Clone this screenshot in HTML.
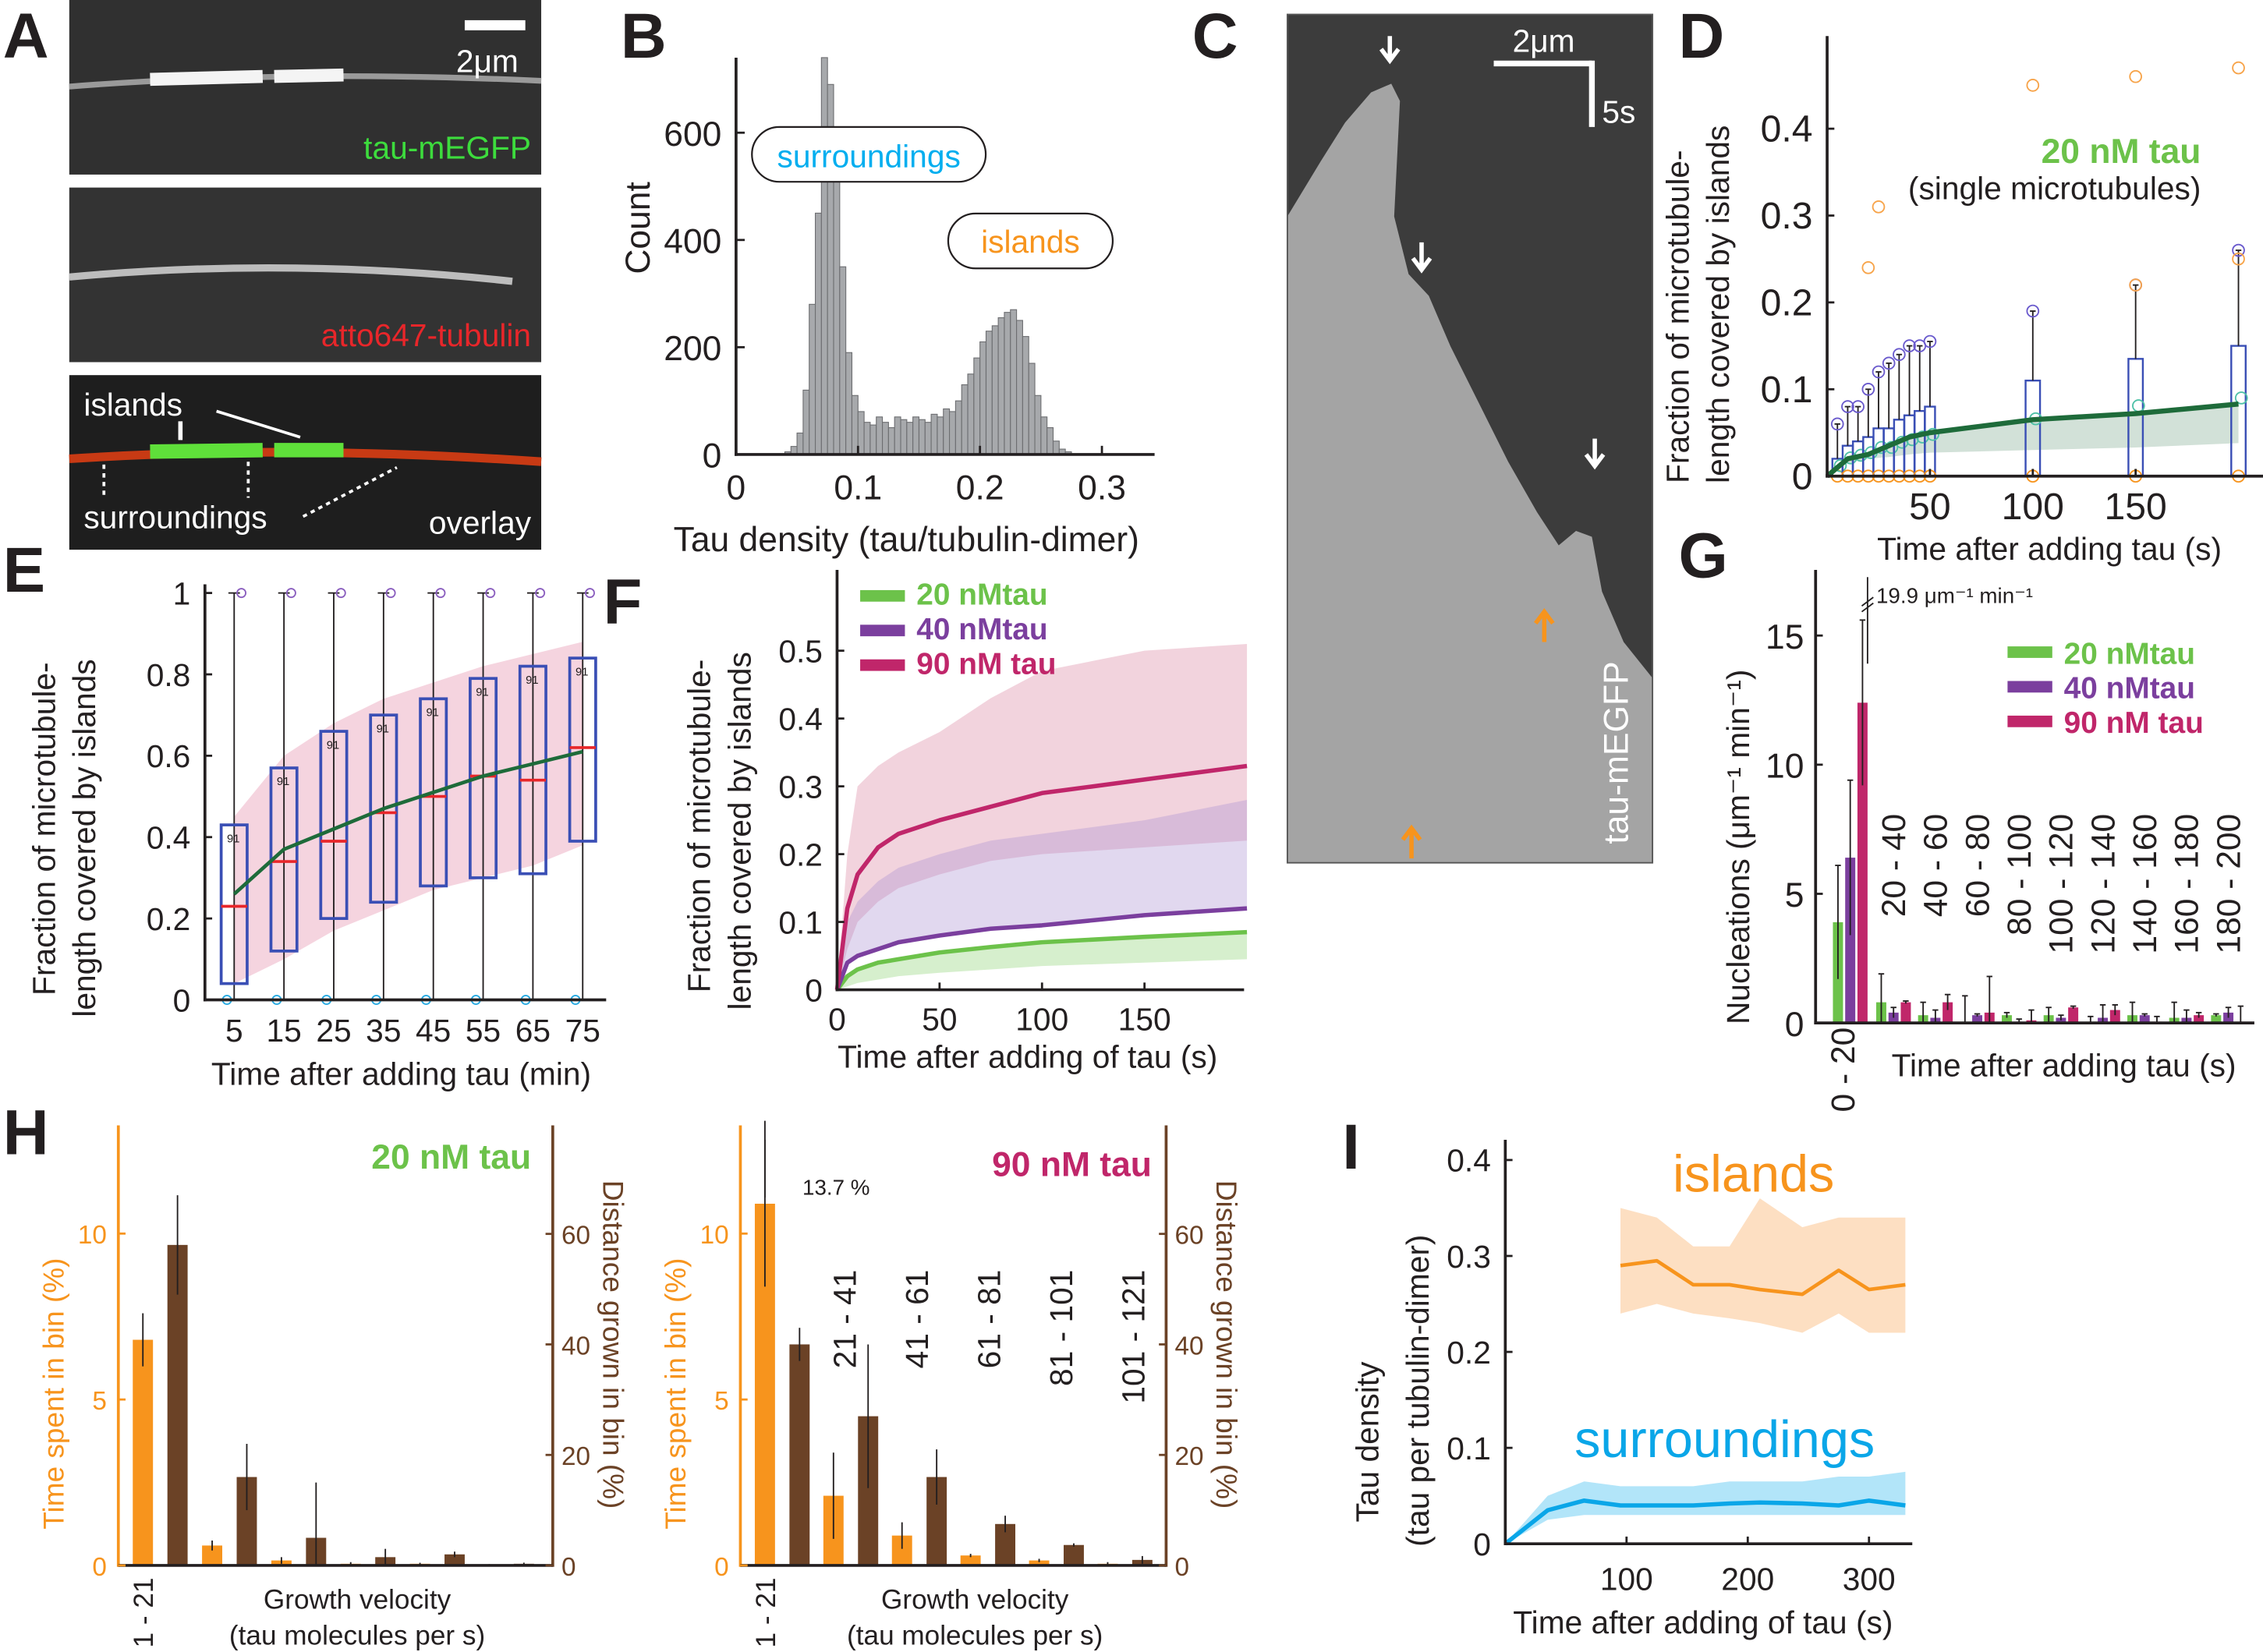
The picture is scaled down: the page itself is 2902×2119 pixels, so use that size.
<!DOCTYPE html>
<html><head><meta charset="utf-8">
<style>
html,body{margin:0;padding:0;background:#fff;}
svg{display:block;font-family:"Liberation Sans",Arial,sans-serif;}
</style></head>
<body>
<svg id="fig" xmlns="http://www.w3.org/2000/svg" width="2902" height="2119" viewBox="0 0 1568 1145" preserveAspectRatio="none">
<rect x="0" y="0" width="1568" height="1145" fill="#fff"/>
<!-- Panel A images -->
<g>
<rect x="48" y="0" width="327" height="121" fill="#303030"/>
<path d="M48 60 Q200 48 375 56" stroke="#9a9a9a" stroke-width="4" fill="none"/>
<line x1="104" y1="55" x2="182" y2="53" stroke="#f4f4f4" stroke-width="9"/>
<line x1="190" y1="53" x2="238" y2="52" stroke="#f4f4f4" stroke-width="9"/>
<rect x="322" y="14" width="42" height="7" fill="#fff"/>
<text x="316" y="50" font-size="22" fill="#fff">2μm</text>
<text x="368" y="110" font-size="22" fill="#3ddc3d" text-anchor="end">tau-mEGFP</text>
<rect x="48" y="130" width="327" height="121" fill="#333"/>
<path d="M48 192 Q200 178 355 195" stroke="#bdbdbd" stroke-width="5" fill="none"/>
<text x="368" y="240" font-size="22" fill="#e8262a" text-anchor="end">atto647-tubulin</text>
<rect x="48" y="260" width="327" height="121" fill="#1e1e1e"/>
<path d="M48 318 Q200 308 375 320" stroke="#c83a14" stroke-width="6" fill="none"/>
<line x1="104" y1="313" x2="182" y2="312" stroke="#5fe03a" stroke-width="10"/>
<line x1="190" y1="312" x2="238" y2="312" stroke="#5fe03a" stroke-width="10"/>
<text x="58" y="288" font-size="22" fill="#fff">islands</text>
<line x1="125" y1="292" x2="125" y2="305" stroke="#fff" stroke-width="3"/>
<line x1="150" y1="285" x2="208" y2="303" stroke="#fff" stroke-width="2"/>
<text x="58" y="366" font-size="22" fill="#fff">surroundings</text>
<line x1="72" y1="322" x2="72" y2="345" stroke="#fff" stroke-width="2" stroke-dasharray="3,3"/>
<line x1="172" y1="320" x2="172" y2="345" stroke="#fff" stroke-width="2" stroke-dasharray="3,3"/>
<line x1="210" y1="358" x2="275" y2="324" stroke="#fff" stroke-width="2" stroke-dasharray="3,3"/>
<text x="368" y="370" font-size="22" fill="#fff" text-anchor="end">overlay</text>
</g>
<!-- Panel C kymograph -->
<g>
<rect x="892" y="10" width="253" height="588" fill="#3c3c3c"/>
<polygon points="892,598 892,150 915,112 932,85 950,64 964,58 970,70 966,150 976,190 990,205 1005,240 1025,280 1045,320 1065,355 1080,378 1092,368 1103,372 1110,410 1125,445 1145,470 1145,598" fill="#a4a4a4"/>
<rect x="892" y="10" width="253" height="588" fill="none" stroke="#555"/>
<line x1="1035" y1="44" x2="1103" y2="44" stroke="#fff" stroke-width="4"/>
<line x1="1103" y1="42" x2="1103" y2="88" stroke="#fff" stroke-width="4"/>
<text x="1048" y="36" font-size="22" fill="#fff">2μm</text>
<text x="1110" y="85" font-size="22" fill="#fff">5s</text>
<text x="1128" y="585" font-size="24" fill="#fff" transform="rotate(-90 1128 585)">tau-mEGFP</text>
<path d="M963 25 v16 m-6 -7 l6 8 l6 -8" stroke="#fff" stroke-width="3" fill="none"/>
<path d="M985 168 v18 m-6 -7 l6 8 l6 -8" stroke="#fff" stroke-width="3" fill="none"/>
<path d="M1105 304 v18 m-6 -7 l6 8 l6 -8" stroke="#fff" stroke-width="3" fill="none"/>
<path d="M1070 445 v-20 m-6 7 l6 -8 l6 8" stroke="#f7941d" stroke-width="3" fill="none"/>
<path d="M978 595 v-20 m-6 7 l6 -8 l6 8" stroke="#f7941d" stroke-width="3" fill="none"/>
</g>
<g id="plots"></g>
</svg>
<script>
const NS="http://www.w3.org/2000/svg";
const root=document.getElementById('plots');
function mk(tag,attrs,name){
 const el=document.createElementNS(NS,tag);
 for(const k in attrs) el.setAttribute(k,attrs[k]);
 
 
 root.appendChild(el); return el;
}
function tx(x,y,s,size,name,o){o=o||{};
 const a={x:x,y:y,'font-size':size,fill:o.fill||'#231f20','text-anchor':o.anchor||'start'};
 if(o.bold) a['font-weight']='bold';
 if(o.rot!==undefined) a.transform='rotate('+o.rot+' '+x+' '+y+')';
 const e=mk('text',a,name); e.textContent=s; return e;}
function ln(x1,y1,x2,y2,c,w,name){return mk('line',{x1:x1,y1:y1,x2:x2,y2:y2,stroke:c,'stroke-width':w},name);}
function pl(pts,c,w,name){return mk('polyline',{points:pts.map(p=>p.join(',')).join(' '),fill:'none',stroke:c,'stroke-width':w,'stroke-linejoin':'round'},name);}
function pg(pts,c,op,name){return mk('polygon',{points:pts.map(p=>p.join(',')).join(' '),fill:c,'fill-opacity':op},name);}

// ===== Panel letters =====
const letters=[['A',2,40],['B',430,40],['C',826,40],['D',1163,40],['E',2,410],['F',418,432],['G',1163,400],['H',2,800],['I',930,810]];
letters.forEach(l=>tx(l[1],l[2],l[0],44,'panel-letter-'+l[0],{bold:true}));

// ===== Panel B histogram =====
const bBinStart=[0.04,0.045,0.05,0.055,0.06,0.065,0.07,0.075,0.08,0.085,0.09,0.095,0.1,0.105,0.11,0.115,0.12,0.125,0.13,0.135,0.14,0.145,0.15,0.155,0.16,0.165,0.17,0.175,0.18,0.185,0.19,0.195,0.2,0.205,0.21,0.215,0.22,0.225,0.23,0.235,0.24,0.245,0.25,0.255,0.26,0.265,0.27];
const bCounts=[5,15,40,120,280,450,740,690,510,350,190,110,80,60,55,70,60,50,70,65,60,70,65,60,75,70,85,80,100,130,150,180,210,230,240,255,265,270,250,220,170,110,70,50,25,10,5];
const bXTicks=[0,0.1,0.2,0.3], bYTicks=[0,200,400,600];
const bx=v=>510+v*845, by=c=>315-c*0.3717;
bBinStart.forEach((s,i)=>{mk('rect',{x:bx(s),y:by(bCounts[i]),width:0.005*845,height:bCounts[i]*0.3717,fill:'#a7a9ac',stroke:'#6d6e71','stroke-width':0.6},'hist-bar');});
ln(510,40,510,316,'#231f20',2,'b-y-axis');ln(509,315,800,315,'#231f20',2,'b-x-axis');
bXTicks.forEach(t=>{ln(bx(t),315,bx(t),309,'#231f20',1.5,'b-x-tick');tx(bx(t),346,String(t),24,'b-x-tick-label',{anchor:'middle'});});
bYTicks.forEach(t=>{ln(510,by(t),516,by(t),'#231f20',1.5,'b-y-tick');tx(500,by(t)+9,String(t),24,'b-y-tick-label',{anchor:'end'});});
tx(628,382,'Tau density (tau/tubulin-dimer)',24,'b-x-title',{anchor:'middle'});
tx(450,158,'Count',24,'b-y-title',{anchor:'middle',rot:-90});
mk('rect',{x:521,y:88,width:162,height:38,rx:19,fill:'#fff',stroke:'#231f20','stroke-width':1.2},'surroundings-box');
tx(602,116,'surroundings',22,'surroundings-annotation',{anchor:'middle',fill:'#00aeef'});
mk('rect',{x:657,y:148,width:114,height:38,rx:19,fill:'#fff',stroke:'#231f20','stroke-width':1.2},'islands-box');
tx(714,175,'islands',22,'islands-annotation',{anchor:'middle',fill:'#f7941d'});

// ===== Panel D =====
const dTimes=[5,10,15,20,25,30,35,40,45,50,100,150,200];
const dQ3=[0.02,0.035,0.04,0.045,0.055,0.055,0.065,0.07,0.075,0.08,0.11,0.135,0.15];
const dHigh=[0.06,0.08,0.08,0.1,0.12,0.13,0.14,0.15,0.15,0.155,0.19,0.22,0.26];
const dCurveT=[0,10,20,30,40,50,100,150,200];
const dMean=[0,0.02,0.025,0.035,0.045,0.05,0.065,0.072,0.083];
const dBandLo=[0,0.015,0.02,0.022,0.025,0.027,0.03,0.033,0.038];
const dOutT=[100,150,200,25,20,200,150];
const dOutY=[0.45,0.46,0.47,0.31,0.24,0.25,0.22];
const dXTicks=[50,100,150], dYTicks=[0,0.1,0.2,0.3,0.4];
const dx=t=>1266+t*1.425, dy=v=>330-v*602;
pg(dCurveT.map((t,i)=>[dx(t),dy(dMean[i])]).concat(dCurveT.map((t,i)=>[dx(t),dy(dBandLo[i])]).reverse()),'#1e6b3a',0.2,'d-band');
dTimes.forEach((t,i)=>{const w=t<=50?7:10;
 mk('rect',{x:dx(t)-w/2,y:dy(dQ3[i]),width:w,height:dQ3[i]*602,fill:'none',stroke:'#3a4fb5','stroke-width':1.3},'d-box');
 ln(dx(t),dy(dQ3[i]),dx(t),dy(dHigh[i]),'#231f20',1,'d-whisker');
 ln(dx(t)-2,dy(dHigh[i]),dx(t)+2,dy(dHigh[i]),'#231f20',1,'d-whisker-cap');
 mk('circle',{cx:dx(t),cy:dy(dHigh[i]),r:4,fill:'none',stroke:'#6a5acd','stroke-width':1},'d-point');
 mk('circle',{cx:dx(t),cy:dy(0),r:4,fill:'none',stroke:'#f7941d','stroke-width':1},'d-point');
 mk('circle',{cx:dx(t)+2,cy:dy(dQ3[i]*0.6),r:4,fill:'none',stroke:'#4fc1a8','stroke-width':1},'d-point');
});
dOutT.forEach((t,i)=>mk('circle',{cx:dx(t),cy:dy(dOutY[i]),r:4,fill:'none',stroke:'#f7a44a','stroke-width':1},'d-outlier'));
pl(dCurveT.map((t,i)=>[dx(t),dy(dMean[i])]),'#1e6b3a',3.5,'d-mean-line');
ln(1266,25,1266,331,'#231f20',2,'d-y-axis');ln(1265,330,1568,330,'#231f20',2,'d-x-axis');
dXTicks.forEach(t=>{ln(dx(t),330,dx(t),325,'#231f20',1.5,'d-x-tick');tx(dx(t),360,String(t),26,'d-x-tick-label',{anchor:'middle'});});
dYTicks.forEach(t=>{ln(1266,dy(t),1271,dy(t),'#231f20',1.5,'d-y-tick');tx(1256,dy(t)+9,String(t),26,'d-y-tick-label',{anchor:'end'});});
tx(1420,388,'Time after adding tau (s)',22,'d-x-title',{anchor:'middle'});
tx(1170,335,'Fraction of microtubule-',22,'d-y-title-1',{rot:-90});
tx(1198,335,'length covered by islands',22,'d-y-title-2',{rot:-90});
tx(1525,113,'20 nM tau',24,'d-condition-label',{anchor:'end',bold:true,fill:'#6cc24a'});
tx(1525,138,'(single microtubules)',22,'d-subtitle',{anchor:'end'});

// ===== Panel E =====
const eTimes=[5,15,25,35,45,55,65,75];
const eQ1=[0.04,0.12,0.2,0.24,0.28,0.3,0.31,0.39];
const eQ3=[0.43,0.57,0.66,0.7,0.74,0.79,0.82,0.84];
const eMed=[0.23,0.34,0.39,0.46,0.5,0.55,0.54,0.62];
const eMean=[0.26,0.37,0.42,0.47,0.51,0.55,0.58,0.61];
const eBandLo=[0.04,0.1,0.17,0.22,0.27,0.3,0.33,0.38];
const eBandHi=[0.45,0.6,0.68,0.74,0.78,0.82,0.85,0.88];
const eYTicks=[0,0.2,0.4,0.6,0.8,1];
const ex=t=>145+t*3.45, ey=v=>693-v*282;
pg(eTimes.map((t,i)=>[ex(t),ey(eBandHi[i])]).concat(eTimes.map((t,i)=>[ex(t),ey(eBandLo[i])]).reverse()),'#e8a0b8',0.45,'e-band');
eTimes.forEach((t,i)=>{
 ln(ex(t),ey(0),ex(t),ey(1),'#231f20',1,'e-whisker');
 ln(ex(t)-4,ey(1),ex(t)+4,ey(1),'#231f20',1,'e-cap');
 mk('rect',{x:ex(t)-9,y:ey(eQ3[i]),width:18,height:(eQ3[i]-eQ1[i])*282,fill:'none',stroke:'#3a4fb5','stroke-width':2},'e-box');
 ln(ex(t)-9,ey(eMed[i]),ex(t)+9,ey(eMed[i]),'#e8262a',2,'e-median');
 tx(ex(t)-5,ey(eQ3[i])+12,'91',8,'e-n-label');
 [0,1].forEach(k=>mk('circle',{cx:ex(t)+(k?5:-5),cy:ey(k),r:3,fill:'none',stroke:k?'#8b5fbf':'#29abe2','stroke-width':1},'e-point'));
});
pl(eTimes.map((t,i)=>[ex(t),ey(eMean[i])]),'#1e6b3a',2.5,'e-mean-line');
ln(142,405,142,694,'#231f20',2,'e-y-axis');ln(141,693,420,693,'#231f20',2,'e-x-axis');
eTimes.forEach(t=>tx(ex(t),722,String(t),22,'e-x-tick-label',{anchor:'middle'}));
eYTicks.forEach(t=>{ln(142,ey(t),147,ey(t),'#231f20',1.5,'e-y-tick');tx(132,ey(t)+8,String(t),22,'e-y-tick-label',{anchor:'end'});});
tx(278,752,'Time after adding tau (min)',22,'e-x-title',{anchor:'middle'});
tx(38,690,'Fraction of microtubule-',22,'e-y-title-1',{rot:-90});
tx(66,705,'length covered by islands',22,'e-y-title-2',{rot:-90});

// ===== Panel F =====
const fT=[0,5,10,20,30,50,75,100,150,200];
const f20=[0,0.02,0.03,0.04,0.045,0.055,0.063,0.07,0.078,0.085];
const f40=[0,0.04,0.05,0.06,0.07,0.08,0.09,0.095,0.11,0.12];
const f90=[0,0.12,0.17,0.21,0.23,0.25,0.27,0.29,0.31,0.33];
const f20Lo=[0,0.005,0.01,0.015,0.02,0.025,0.03,0.035,0.04,0.045];
const f40Hi=[0,0.1,0.13,0.16,0.18,0.2,0.22,0.23,0.25,0.28];
const f90Lo=[0,0.06,0.1,0.13,0.15,0.17,0.19,0.2,0.21,0.22];
const f90Hi=[0,0.2,0.3,0.33,0.35,0.38,0.43,0.47,0.5,0.51];
const fXTicks=[0,50,100,150], fYTicks=[0,0.1,0.2,0.3,0.4,0.5];
const fx=t=>580+t*1.42, fy=v=>686-v*470;
const band=(lo,hi)=>fT.map((t,i)=>[fx(t),fy(hi[i])]).concat(fT.map((t,i)=>[fx(t),fy(lo[i])]).reverse());
pg(band(f90Lo,f90Hi),'#d9819f',0.35,'f-band-90');
pg(band(f40,f40Hi),'#a98ed0',0.35,'f-band-40');
pg(band(f20Lo,f20),'#a5dc90',0.45,'f-band-20');
pl(fT.map((t,i)=>[fx(t),fy(f20[i])]),'#6cc24a',3,'f-line-20');
pl(fT.map((t,i)=>[fx(t),fy(f40[i])]),'#7b3f9e',3,'f-line-40');
pl(fT.map((t,i)=>[fx(t),fy(f90[i])]),'#c0266a',3,'f-line-90');
ln(580,395,580,687,'#231f20',2,'f-y-axis');ln(579,686,862,686,'#231f20',2,'f-x-axis');
fXTicks.forEach(t=>{ln(fx(t),686,fx(t),681,'#231f20',1.5,'f-x-tick');tx(fx(t),714,String(t),22,'f-x-tick-label',{anchor:'middle'});});
fYTicks.forEach(t=>{ln(580,fy(t),585,fy(t),'#231f20',1.5,'f-y-tick');tx(570,fy(t)+8,String(t),22,'f-y-tick-label',{anchor:'end'});});
tx(712,740,'Time after adding of tau (s)',22,'f-x-title',{anchor:'middle'});
tx(492,688,'Fraction of microtubule-',22,'f-y-title-1',{rot:-90});
tx(520,700,'length covered by islands',22,'f-y-title-2',{rot:-90});
[['20 nMtau','#6cc24a',419],['40 nMtau','#7b3f9e',443],['90 nM tau','#c0266a',467]].forEach((l,i)=>{
 mk('rect',{x:596,y:l[2]-10,width:31,height:8,fill:l[1]},'f-legend-swatch');
 tx(635,l[2],l[0],21,'f-legend-label',{bold:true,fill:l[1]});});

// ===== Panel G =====
const gLabels=['0 - 20','20 - 40','40 - 60','60 - 80','80 - 100','100 - 120','120 - 140','140 - 160','160 - 180','180 - 200'];
const gGreen=[3.9,0.8,0.3,0.05,0.3,0.3,0.05,0.3,0.2,0.3];
const gPurple=[6.4,0.4,0.2,0.3,0.05,0.2,0.2,0.3,0.2,0.4];
const gMag=[12.4,0.8,0.8,0.4,0.1,0.6,0.5,0.05,0.3,0.05];
const gErr=[[2.2,3.0,3.2],[1.1,0.2,0.05],[0.5,0.3,0.3],[1.0,0.05,1.4],[0.1,0.1,0.4],[0.3,0.1,0.05],[0.2,0.5,0.2],[0.5,0.05,0.2],[0.6,0.3,0.1],[0.05,0.2,0.6]];
const gYTicks=[0,5,10,15];
const gy=v=>709-v*17.9, gx=i=>1270+i*29+(i>0?1:0);
const gCols=['#6cc24a','#7b3f9e','#c0266a'];
gLabels.forEach((lab,i)=>{
 [gGreen[i],gPurple[i],gMag[i]].forEach((v,k)=>{
  const x=gx(i)+k*8.5;
  mk('rect',{x:x,y:gy(v),width:7,height:v*17.9,fill:gCols[k]},'g-bar');
  const e=gErr[i][k];
  ln(x+3.5,gy(v-e>0?v-e:0),x+3.5,gy(v+e),'#231f20',1,'g-errorbar');
  ln(x+1.5,gy(v+e),x+5.5,gy(v+e),'#231f20',1,'g-errorcap');
 });
 if(i>0) tx(gx(i)+20,564,lab,23,'g-bin-label',{rot:-90,anchor:'end'});
});
tx(1285,712,gLabels[0],23,'g-bin-label-first',{rot:-90,anchor:'end'});
ln(1294,400,1294,460,'#231f20',1,'g-break-errorbar');
ln(1290,420,1298,414,'#231f20',1,'g-break-mark');ln(1290,424,1298,418,'#231f20',1,'g-break-mark');
tx(1300,418,'19.9 μm⁻¹ min⁻¹',15,'g-annotation');
ln(1258,395,1258,710,'#231f20',2,'g-y-axis');ln(1257,709,1562,709,'#231f20',2,'g-x-axis');
gYTicks.forEach(t=>{ln(1258,gy(t),1263,gy(t),'#231f20',1.5,'g-y-tick');tx(1250,gy(t)+9,String(t),24,'g-y-tick-label',{anchor:'end'});});
tx(1430,746,'Time after adding tau (s)',22,'g-x-title',{anchor:'middle'});
tx(1212,710,'Nucleations (μm⁻¹ min⁻¹)',22,'g-y-title',{rot:-90});
[['20 nMtau','#6cc24a',460],['40 nMtau','#7b3f9e',484],['90 nM tau','#c0266a',508]].forEach(l=>{
 mk('rect',{x:1391,y:l[2]-12,width:31,height:8,fill:l[1]},'g-legend-swatch');
 tx(1430,l[2],l[0],21,'g-legend-label',{bold:true,fill:l[1]});});

// ===== Panel H =====
const hBins=['1 - 21','21 - 41','41 - 61','61 - 81','81 - 101','101 - 121'];
const h20Time=[6.8,0.6,0.15,0.05,0.05,0.02];
const h20Dist=[58,16,5,1.5,2,0.3];
const h20TimeErr=[0.8,0.15,0.1,0.05,0.03,0.02];
const h20DistErr=[9,6,10,1.5,0.5,0.2];
const h90Time=[10.9,2.1,0.9,0.3,0.15,0.05];
const h90Dist=[40,27,16,7.5,3.7,1];
const h90TimeErr=[2.5,1.3,0.4,0.05,0.05,0.05];
const h90DistErr=[3,13,5,1.5,0.3,0.7];
const hYTicksL=[0,5,10], hYTicksR=[0,20,40,60];
const hyL=v=>1085-v*23, hyR=v=>1085-v*3.83;
function hPanel(x0,x1,tm,dist,tmE,dsE,gap,tag){
 tm.forEach((v,i)=>{const xo=x0+17+i*gap,xb=xo+24;
  mk('rect',{x:xo-7,y:hyL(v),width:14,height:v*23,fill:'#f7941d'},tag+'-time-bar');
  ln(xo,hyL(Math.max(0,v-tmE[i])),xo,hyL(v+tmE[i]),'#231f20',1,tag+'-time-err');
  mk('rect',{x:xb-7,y:hyR(dist[i]),width:14,height:dist[i]*3.83,fill:'#6b4226'},tag+'-dist-bar');
  ln(xb,hyR(Math.max(0,dist[i]-dsE[i])),xb,hyR(dist[i]+dsE[i]),'#231f20',1,tag+'-dist-err');
 });
 ln(x0,780,x0,1086,'#f7941d',2,tag+'-left-axis');ln(x1,780,x1,1086,'#6b4226',2,tag+'-right-axis');
 ln(x0,1085,x1,1085,'#231f20',2,tag+'-x-axis');
 hYTicksL.forEach(t=>{ln(x0,hyL(t),x0+5,hyL(t),'#f7941d',1.5,tag+'-left-tick');tx(x0-8,hyL(t)+7,String(t),18,tag+'-left-tick-label',{anchor:'end',fill:'#f7941d'});});
 hYTicksR.forEach(t=>{ln(x1-5,hyR(t),x1,hyR(t),'#6b4226',1.5,tag+'-right-tick');tx(x1+6,hyR(t)+7,String(t),18,tag+'-right-tick-label',{fill:'#6b4226'});});
 tx(x0-38,1060,'Time spent in bin (%)',20,tag+'-left-title',{rot:-90,fill:'#f7941d'});
 tx(x1+35,818,'Distance grown in bin (%)',20,tag+'-right-title',{rot:90,fill:'#6b4226'});
 tx((x0+x1)/2+15,1115,'Growth velocity',19,tag+'-x-title-1',{anchor:'middle'});
 tx((x0+x1)/2+15,1140,'(tau molecules per s)',19,tag+'-x-title-2',{anchor:'middle'});
 tx(x0+24,1142,hBins[0],19,tag+'-first-bin-label',{rot:-90});
}
hPanel(82,383,h20Time,h20Dist,h20TimeErr,h20DistErr,48,'h20');
hPanel(513,808,h90Time,h90Dist,h90TimeErr,h90DistErr,47.5,'h90');
tx(368,810,'20 nM tau',24,'h20-title',{anchor:'end',bold:true,fill:'#6cc24a'});
tx(798,815,'90 nM tau',24,'h90-title',{anchor:'end',bold:true,fill:'#c0266a'});
tx(556,828,'13.7 %',15,'h90-annotation');
ln(530,790,530,830,'#231f20',1,'h90-break-err');
hBins.slice(1).forEach((b,i)=>tx(593+i*50,880,b,22,'h90-bin-label',{rot:-90,anchor:'end'}));

// ===== Panel I =====
const iT=[0,35,65,95,125,155,185,210,245,275,300,330];
const iSurr=[0,0.035,0.045,0.04,0.04,0.04,0.042,0.043,0.042,0.04,0.045,0.04];
const iSurrLo=[0,0.025,0.03,0.03,0.03,0.03,0.03,0.03,0.03,0.03,0.03,0.03];
const iSurrHi=[0,0.05,0.065,0.06,0.06,0.06,0.065,0.065,0.065,0.07,0.07,0.075];
const iIslT=[95,125,155,185,210,245,275,300,330];
const iIsl=[0.29,0.295,0.27,0.27,0.265,0.26,0.285,0.265,0.27];
const iIslLo=[0.24,0.25,0.24,0.235,0.23,0.22,0.24,0.22,0.22];
const iIslHi=[0.35,0.34,0.31,0.31,0.36,0.33,0.34,0.34,0.34];
const iXTicks=[100,200,300], iYTicks=[0,0.1,0.2,0.3,0.4];
const ix=t=>1043+t*0.84, iy=v=>1070-v*665;
pg(iT.map((t,i)=>[ix(t),iy(iSurrHi[i])]).concat(iT.map((t,i)=>[ix(t),iy(iSurrLo[i])]).reverse()),'#7fd3f5',0.6,'i-surr-band');
pg(iIslT.map((t,i)=>[ix(t),iy(iIslHi[i])]).concat(iIslT.map((t,i)=>[ix(t),iy(iIslLo[i])]).reverse()),'#fbc99a',0.6,'i-island-band');
pl(iT.map((t,i)=>[ix(t),iy(iSurr[i])]),'#0aa6e8',3,'i-surr-line');
pl(iIslT.map((t,i)=>[ix(t),iy(iIsl[i])]),'#f7941d',2.5,'i-island-line');
ln(1043,790,1043,1071,'#231f20',2,'i-y-axis');ln(1042,1070,1325,1070,'#231f20',2,'i-x-axis');
iXTicks.forEach(t=>{ln(ix(t),1070,ix(t),1065,'#231f20',1.5,'i-x-tick');tx(ix(t),1102,String(t),22,'i-x-tick-label',{anchor:'middle'});});
iYTicks.forEach(t=>{ln(1043,iy(t),1048,iy(t),'#231f20',1.5,'i-y-tick');tx(1033,iy(t)+8,String(t),22,'i-y-tick-label',{anchor:'end'});});
tx(1180,1132,'Time after adding of tau (s)',22,'i-x-title',{anchor:'middle'});
tx(955,1055,'Tau density',22,'i-y-title-1',{rot:-90});
tx(990,1072,'(tau per tubulin-dimer)',22,'i-y-title-2',{rot:-90});
tx(1215,826,'islands',36,'i-islands-label',{anchor:'middle',fill:'#f7941d'});
tx(1195,1010,'surroundings',36,'i-surroundings-label',{anchor:'middle',fill:'#0aa6e8'});
</script>
</body></html>
